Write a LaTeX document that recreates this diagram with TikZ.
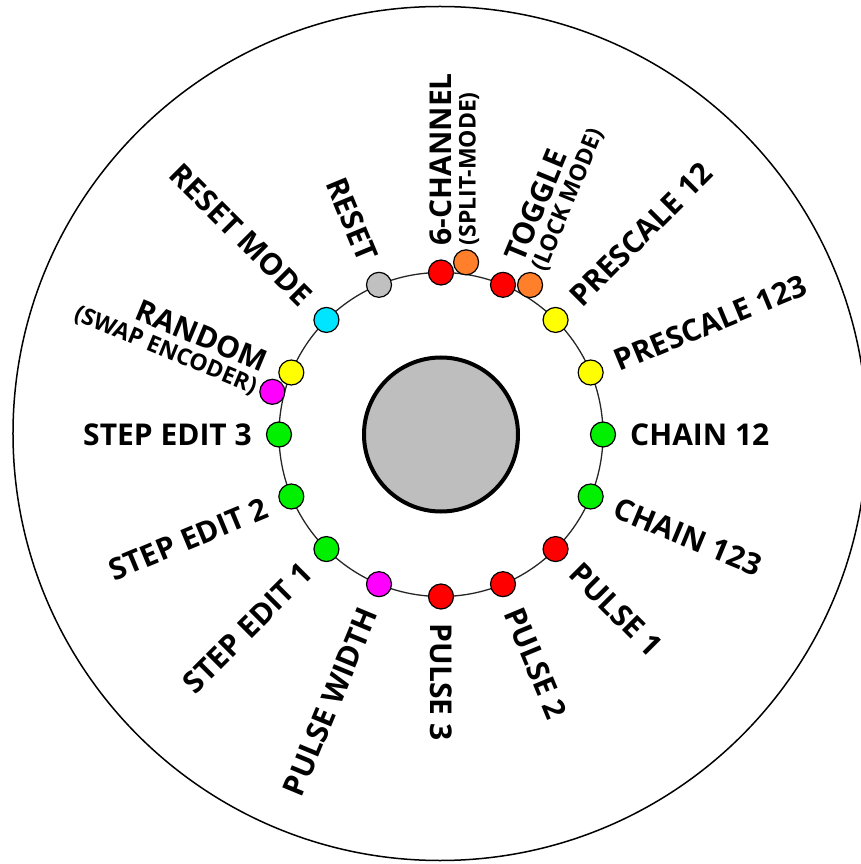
\documentclass[tikz,border=0pt]{standalone}
\usepackage{fontspec}
\setmainfont{Open Sans}
\usepackage{tikz}
\definecolor{ledred}{HTML}{FF0000}
\definecolor{ledorange}{HTML}{FF7F2A}
\definecolor{ledyellow}{HTML}{FFFF00}
\definecolor{ledgreen}{HTML}{00F000}
\definecolor{ledcyan}{HTML}{00E5FF}
\definecolor{ledmagenta}{HTML}{FF00FF}
\definecolor{ledgray}{HTML}{C0C0C0}
\definecolor{knobgray}{HTML}{BEBEBE}

\begin{document}
\begin{tikzpicture}[x=1pt, y=1pt,
    led/.style = {draw, circle, fill=#1, minimum size=25pt, inner sep=0pt, line width=1.2pt},
    lbl/.style = {inner xsep=0pt, inner ysep=3pt, font=\fontsize{30}{30}\selectfont\bfseries},
    sub/.style = {inner xsep=0pt, inner ysep=3.5pt, font=\fontsize{23}{23}\selectfont\bfseries}]
    \useasboundingbox (-441,-429.5) rectangle (420,434.5);
    \clip (-441,-429.5) rectangle (420,434.5);

    % Panel
    \draw[line width=1.5pt] (-1,1) circle (427);
    \draw[line width=1.3pt, black!85] (0,0) circle (162);
    \node[draw, circle, fill=knobgray, line width=4pt, minimum size=154pt, inner sep=0pt] (knob) at (0,0) {};

    % LEDs
    \node[led=ledorange] (splt) at (81.7:174) {};
    \node[led=ledorange] (lock) at (59.2:174) {};
    \node[led=ledmagenta] (swap) at (165.8:174) {};

    \node[led=ledred] (ch6) at (90:162) {};
    \node[led=ledred] (tgl) at (67.5:162) {};
    \node[led=ledyellow] (ps12) at (45:162) {};
    \node[led=ledyellow] (ps123) at (22.5:162) {};
    \node[led=ledgreen] (ch12) at (0:162) {};
    \node[led=ledgreen] (ch123) at (-22.5:162) {};
    \node[led=ledred] (pls1) at (-45:162) {};
    \node[led=ledred] (pls2) at (-67.5:162) {};
    \node[led=ledred] (pls3) at (-90:162) {};
    \node[led=ledmagenta] (pw) at (-112.5:162) {};
    \node[led=ledgreen] (se1) at (-135:162) {};
    \node[led=ledgreen] (se2) at (-157.5:162) {};
    \node[led=ledgreen] (se3) at (180:162) {};
    \node[led=ledyellow] (rnd) at (157.5:162) {};
    \node[led=ledcyan] (rstm) at (135:162) {};
    \node[led=ledgray] (rst) at (112.5:162) {};

    % Labels
    \node[lbl, rotate=90, anchor=west] (ch6l) at (90:189) {6-CHANNEL};
    \node[sub, rotate=90, anchor=north west] (spltl) at (ch6l.south west) {(SPLIT-MODE)};
    \node[lbl, rotate=67.5, anchor=west] (tgll) at (67.5:189) {TOGGLE};
    \node[sub, rotate=67.5, anchor=north west] (lockl) at (tgll.south west) {(LOCK MODE)};
    \node[lbl, rotate=45, anchor=west] (ps12l) at (45:189) {PRESCALE 12};
    \node[lbl, rotate=22.5, anchor=west] (ps123l) at (22.5:189) {PRESCALE 123};
    \node[lbl, rotate=0, anchor=west] (ch12l) at (0:189) {CHAIN 12};
    \node[lbl, rotate=-22.5, anchor=west] (ch123l) at (-22.5:189) {CHAIN 123};
    \node[lbl, rotate=-45, anchor=west] (pls1l) at (-45:189) {PULSE 1};
    \node[lbl, rotate=-67.5, anchor=west] (pls2l) at (-67.5:189) {PULSE 2};
    \node[lbl, rotate=-90, anchor=west] (pls3l) at (-90:189) {PULSE 3};
    \node[lbl, rotate=67.5, anchor=east] (pwl) at (-112.5:189) {PULSE WIDTH};
    \node[lbl, rotate=45, anchor=east] (se1l) at (-135:189) {STEP EDIT 1};
    \node[lbl, rotate=22.5, anchor=east] (se2l) at (-157.5:189) {STEP EDIT 2};
    \node[lbl, rotate=0, anchor=east] (se3l) at (180:189) {STEP EDIT 3};
    \node[lbl, rotate=-22.5, anchor=east] (rndl) at (157.5:189) {RANDOM};
    \node[sub, rotate=-22.5, anchor=north east] (swapl) at (rndl.south east) {(SWAP ENCODER)};
    \node[lbl, rotate=-45, anchor=east] (rstml) at (135:189) {RESET MODE};
    \node[lbl, rotate=-67.5, anchor=east] (rstl) at (112.5:189) {RESET};

\end{tikzpicture}
\end{document}
